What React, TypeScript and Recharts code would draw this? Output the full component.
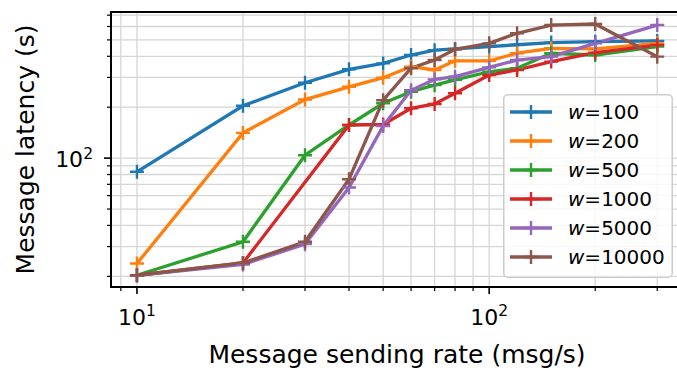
import React from "react";
import {
  LineChart,
  Line,
  XAxis,
  YAxis,
  CartesianGrid,
  Legend,
  ReferenceArea,
} from "recharts";

const FONT = "'DejaVu Sans', sans-serif";

const rates = [10, 20, 30, 40, 50, 60, 70, 80, 100, 120, 150, 200, 300];

const w100 = [83, 204, 279, 335, 363, 407, 435, 442, 456, 468, 482, 488, 493];
const w200 = [23.8, 141, 222, 264, 299, 347, 332, 376, 376, 417, 446, 442, 477];
const w500 = [20.3, 32, 104, 157, 211, 247, 270, 290, 324, 340, 417, 407, 456];
const w1000 = [20.3, 24, null, 157, 158, 197, 209, 242, 310, 332, 372, 420, 466];
const w5000 = [20.3, 23.5, 31, 67, 155, 252, 292, 303, 344, 380, 398, 477, 612];
const w10000 = [20.3, 24, 32, 75, 220, 340, 380, 440, 477, 547, 612, 621, 398];

const xTicks = [9, 10, 20, 30, 40, 50, 60, 70, 80, 90, 100, 200, 300];
const yTicks = [20, 30, 40, 50, 60, 70, 80, 90, 100, 200, 300, 400, 500, 600, 700];

const series = [
  { key: "w100", label: "100", color: "#1f77b4", values: w100 },
  { key: "w200", label: "200", color: "#ff7f0e", values: w200 },
  { key: "w500", label: "500", color: "#2ca02c", values: w500 },
  { key: "w1000", label: "1000", color: "#d62728", values: w1000 },
  { key: "w5000", label: "5000", color: "#9467bd", values: w5000 },
  { key: "w10000", label: "10000", color: "#8c564b", values: w10000 },
];

const data = rates.map((rate, i) => {
  const row: Record<string, number | null> = { rate };
  series.forEach((s) => (row[s.key] = s.values[i]));
  return row;
});

const X_DOMAIN = [8.44, 355];
const Y_DOMAIN = [17.3, 731];

function plusDot(color: string) {
  return (props: any) => {
    const { cx, cy, index } = props;
    if (cx == null || cy == null || props.value == null) return <g key={index} />;
    return (
      <path
        key={index}
        d={`M${cx - 7},${cy}H${cx + 7}M${cx},${cy - 7}V${cy + 7}`}
        stroke={color}
        strokeWidth={2.4}
        fill="none"
      />
    );
  };
}

function XTick({ x, y, payload }: any) {
  const v = payload.value;
  const major = v === 10 || v === 100;
  return (
    <g>
      <line x1={x} x2={x} y1={y} y2={y + (major ? 7 : 4)} stroke="#000" strokeWidth={major ? 1.6 : 1.2} />
      {major && (
        <text x={x} y={y + 38} textAnchor="middle" fontSize={22} fontFamily={FONT} fill="#000">
          10
          <tspan dy={-9} fontSize={15.5}>
            {v === 10 ? "1" : "2"}
          </tspan>
        </text>
      )}
    </g>
  );
}

function YTick({ x, y, payload }: any) {
  const v = payload.value;
  const major = v === 100;
  return (
    <g>
      <line x1={x - (major ? 7 : 4)} x2={x} y1={y} y2={y} stroke="#000" strokeWidth={major ? 1.6 : 1.2} />
      {major && (
        <text x={x - 18} y={y + 9} textAnchor="end" fontSize={22} fontFamily={FONT} fill="#000">
          10
          <tspan dy={-8} fontSize={15.5}>
            2
          </tspan>
        </text>
      )}
    </g>
  );
}

function LegendBox() {
  return (
    <svg width={170} height={184} style={{ display: "block" }}>
      <rect x={0.75} y={0.75} width={168.5} height={182.5} rx={4} fill="rgba(255,255,255,0.8)" stroke="#cccccc" strokeWidth={1.5} />
      {series.map((s, i) => {
        const cy = 18 + i * 29;
        return (
          <g key={s.key}>
            <line x1={7} x2={49} y1={cy} y2={cy} stroke={s.color} strokeWidth={3.4} />
            <path d={`M21,${cy}H35M28,${cy - 7}V${cy + 7}`} stroke={s.color} strokeWidth={2.4} />
            <text x={65} y={cy + 7} fontSize={20} fontFamily={FONT} fill="#000">
              <tspan fontStyle="italic">w</tspan>={s.label}
            </text>
          </g>
        );
      })}
    </svg>
  );
}

export default function App() {
  return (
    <div style={{ position: "fixed", left: 0, top: 0, width: 677, height: 372, overflow: "hidden", background: "#fff" }}>
      <LineChart width={693} height={372} data={data} margin={{ top: 12, right: 10, bottom: 0, left: 0 }}>
        <CartesianGrid stroke="#d6d6d6" strokeWidth={1.3} />
        <XAxis
          dataKey="rate"
          type="number"
          scale="log"
          domain={X_DOMAIN}
          allowDataOverflow
          ticks={xTicks}
          interval={0}
          tick={<XTick />}
          tickLine={false}
          axisLine={false}
          tickSize={0}
          tickMargin={0}
          height={85}
          label={() => (
            <text x={397} y={363} textAnchor="middle" fontSize={25} fontFamily={FONT} fill="#000">
              Message sending rate (msg/s)
            </text>
          )}
        />
        <YAxis
          type="number"
          scale="log"
          domain={Y_DOMAIN}
          allowDataOverflow
          ticks={yTicks}
          interval={0}
          tick={<YTick />}
          tickLine={false}
          axisLine={false}
          tickSize={0}
          tickMargin={0}
          width={111}
          label={() => (
            <text
              x={34}
              y={149.5}
              transform="rotate(-90, 34, 149.5)"
              textAnchor="middle"
              fontSize={25}
              fontFamily={FONT}
              fill="#000"
            >
              Message latency (s)
            </text>
          )}
        />
        {series.map((s) => (
          <Line
            key={s.key}
            dataKey={s.key}
            stroke={s.color}
            strokeWidth={3.3}
            dot={plusDot(s.color)}
            activeDot={false}
            connectNulls
            isAnimationActive={false}
          />
        ))}
        <ReferenceArea
          x1={X_DOMAIN[0]}
          x2={X_DOMAIN[1]}
          y1={Y_DOMAIN[0]}
          y2={Y_DOMAIN[1]}
          fill="none"
          fillOpacity={0}
          stroke="#000"
          strokeWidth={2}
          ifOverflow="visible"
        />
        <Legend
          layout="vertical"
          align="center"
          verticalAlign="middle"
          content={() => <LegendBox />}
          wrapperStyle={{ left: 503, top: 94, width: 170, height: 184 }}
        />
      </LineChart>
    </div>
  );
}
